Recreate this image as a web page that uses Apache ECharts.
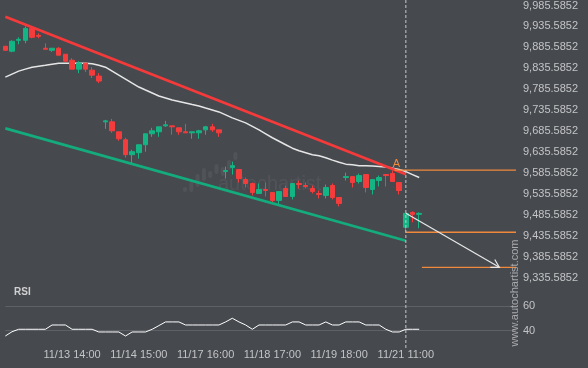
<!DOCTYPE html>
<html><head><meta charset="utf-8">
<script src="https://cdn.jsdelivr.net/npm/echarts@6/dist/echarts.min.js"></script>
<style>html,body{margin:0;padding:0;background:#46494e}#c{width:588px;height:368px}</style>
</head><body><div id="c"></div>
<script>
// ---- data ----
const tickIndex = [10, 20, 30, 40, 50, 60];
const tickLabels = ['11/13 14:00', '11/14 15:00', '11/17 16:00', '11/18 17:00', '11/19 18:00', '11/21 11:00'];
const priceMin = 9335.5852, priceMax = 9985.5852, priceStep = 50;

const candleOpen = [9888.3,9876.5,9902.6,9902.6,9931.0,9914.4,9883.6,9878.8,9883.6,9869.3,
  9855.1,9833.8,9848.0,9831.4,9817.2,9708.0,9708.0,9684.3,9665.3,9629.7,
  9634.5,9653.5,9679.6,9684.3,9698.5,9698.5,9693.8,9684.3,9681.9,9681.9,
  9689.0,9696.2,9689.0,9589.4,9598.9,9594.2,9570.4,9560.9,9537.2,9546.7,
  9539.6,9520.6,9549.1,9530.1,9560.9,9556.2,9549.1,9537.2,9532.5,9556.2,
  9527.7,9575.2,9577.5,9565.7,9582.3,9546.7,9568.1,9582.3,9584.7,9563.3,
  9456.6,9492.1,9487.4];
const candleClose = [9878.8,9900.2,9904.9,9931.0,9909.7,9912.0,9881.2,9883.6,9867.0,9852.7,
  9833.8,9848.0,9833.8,9819.5,9805.3,9710.4,9686.7,9667.7,9629.7,9636.9,
  9653.5,9679.6,9686.7,9696.2,9700.9,9696.2,9684.3,9681.9,9684.3,9686.7,
  9696.2,9689.0,9681.9,9591.8,9603.6,9572.8,9560.9,9539.6,9546.7,9544.3,
  9520.6,9542.0,9530.1,9560.9,9558.6,9553.8,9542.0,9534.8,9551.5,9527.7,
  9513.5,9577.5,9563.3,9579.9,9551.5,9570.4,9575.2,9579.9,9565.7,9544.3,
  9489.8,9487.4,9489.8];
const candleLow = [9877.5,9874.1,9893.1,9895.4,9907.3,9907.3,9881.2,9874.8,9867.0,9851.5,
  9833.8,9824.3,9826.6,9812.4,9800.5,9691.4,9681.9,9663.0,9622.6,9608.4,
  9620.3,9636.9,9672.4,9672.4,9696.2,9677.2,9677.2,9681.9,9667.7,9667.7,
  9677.2,9684.3,9672.4,9572.8,9582.3,9563.3,9551.5,9532.5,9537.2,9530.1,
  9513.5,9511.1,9530.1,9523.0,9549.1,9549.1,9537.2,9525.4,9525.4,9523.0,
  9506.4,9568.1,9551.5,9560.9,9539.6,9534.8,9553.8,9553.8,9565.7,9534.8,
  9444.7,9468.4,9454.2];
const candleHigh = [9889.5,9902.6,9909.7,9935.8,9935.8,9919.2,9895.4,9884.4,9885.9,9869.3,
  9859.9,9852.7,9848.0,9838.5,9824.3,9712.8,9715.1,9684.3,9670.1,9641.6,
  9653.5,9679.6,9693.8,9696.2,9710.4,9698.5,9693.8,9703.3,9684.3,9689.0,
  9698.5,9703.3,9689.0,9601.3,9613.1,9594.2,9575.2,9563.3,9560.9,9563.3,
  9539.6,9542.0,9556.2,9560.9,9568.1,9563.3,9556.2,9544.3,9558.6,9560.9,
  9527.7,9587.0,9577.5,9584.7,9582.3,9570.4,9579.9,9582.3,9591.8,9563.3,
  9489.8,9494.5,9492.1];

const maValues = [9814.8,9821.9,9829.0,9833.8,9838.5,9840.9,9843.2,9845.6,9848.0,9848.0,
  9848.0,9848.0,9848.0,9846.8,9843.2,9838.5,9829.0,9819.5,9810.0,9800.5,
  9791.1,9783.9,9776.8,9769.7,9765.0,9760.2,9756.7,9753.1,9749.5,9746.0,
  9741.2,9736.5,9731.7,9724.6,9717.5,9711.6,9705.7,9697.4,9689.0,9679.6,
  9670.1,9661.8,9653.5,9645.2,9639.2,9634.5,9629.7,9627.4,9622.6,9616.7,
  9611.9,9607.2,9606.0,9603.6,9603.6,9602.5,9601.3,9600.1,9597.7,9594.2,
  9589.4,9582.3,9575.2];

const rsiValues = [35.5,39,41,41,41,41,41,44.5,44.5,44.5,
  41,41,41,41,38.8,38.8,38.8,38.8,35.5,38.8,
  38.8,38.8,41,44,47,47,47,44.5,44.5,44.5,
  44.5,44.5,44.5,47,50,47,44.5,41,44.5,44.5,
  44.5,44.5,44.5,47,47,44.5,44.5,44.5,47,44.5,
  44.5,47,47,47,44.5,44.5,44.5,41,38.8,38.8,
  41,41,41];

const resistanceX = [0, 60], resistanceY = [9958.8, 9583.0];
const supportX = [0, 60], supportY = [9692.6, 9424.5];
const levelA = 9593.0, levelAStart = 58.3;
const levelB = 9444.7, levelBStart = 60;
const levelC = 9361.0, levelCStart = 62.4;
const arrowFrom = [60, 9489.8], arrowTo = [74, 9361.0];
const X_MAX = 76.5;

// ---- chart ----
const LABEL = '#c3c4c6';
const FONT = '"Liberation Sans", Arial, sans-serif';
const GREEN = '#13b584', RED = '#f53c3c', ORANGE = '#f0893c';
const chart = echarts.init(document.getElementById('c'), null, {renderer: 'canvas'});
const fmtPrice = v => {
  const k = Math.round((v - priceMin) / priceStep);
  const s = (priceMin + k * priceStep).toFixed(4).split('.');
  return s[0].replace(/\B(?=(\d{3})+(?!\d))/g, ',') + '.' + s[1];
};
const candles = candleOpen.map((o, i) => [i, o, candleClose[i], candleLow[i], candleHigh[i]]);
const lvl = (start, v) => [[start, v], [X_MAX, v]];

chart.setOption({
  animation: false,
  backgroundColor: '#46494e',
  textStyle: {fontFamily: FONT},
  grid: [
    {left: 5.34, right: 72, top: 4, height: 274},
    {left: 5.34, right: 72, top: 306, height: 24.5}
  ],
  xAxis: [
    {type: 'value', gridIndex: 0, min: 0, max: X_MAX, show: false},
    {type: 'value', gridIndex: 1, min: 0, max: X_MAX, interval: 10,
     axisLine: {show: false}, axisTick: {show: false}, splitLine: {show: false},
     axisLabel: {color: LABEL, fontSize: 11, margin: 19, fontFamily: FONT, showMaxLabel: false,
       formatter: v => { const k = tickIndex.indexOf(Math.round(v)); return k >= 0 ? tickLabels[k] : ''; }}}
  ],
  yAxis: [
    {type: 'value', gridIndex: 0, position: 'right', min: priceMin, max: priceMax, interval: priceStep,
     axisLine: {show: false}, axisTick: {show: false}, splitLine: {show: false},
     axisLabel: {color: LABEL, fontSize: 11, margin: 7, fontFamily: FONT, formatter: fmtPrice}},
    {type: 'value', gridIndex: 1, position: 'right', min: 40, max: 60, interval: 20,
     axisLine: {show: false}, axisTick: {show: false},
     splitLine: {show: true, lineStyle: {color: '#5e6166', width: 1}},
     axisLabel: {color: LABEL, fontSize: 11, margin: 7, fontFamily: FONT}}
  ],
  series: [
    {type: 'line', xAxisIndex: 0, yAxisIndex: 0, data: maValues.map((v, i) => [i, v]),
     symbol: 'none', lineStyle: {color: '#e6e6e6', width: 1.5}, silent: true, clip: false, z: 2},
    {type: 'candlestick', xAxisIndex: 0, yAxisIndex: 0, data: candles,
     encode: {x: 0, y: [1, 2, 3, 4]}, barWidth: 5, clip: false, silent: true, z: 3,
     itemStyle: {color: GREEN, color0: RED, borderColor: GREEN, borderColor0: RED, borderWidth: 1}},
    {type: 'line', xAxisIndex: 0, yAxisIndex: 0, data: resistanceX.map((x, i) => [x, resistanceY[i]]),
     symbol: 'none', lineStyle: {color: '#f43a3a', width: 2.8}, silent: true, clip: false, z: 4},
    {type: 'line', xAxisIndex: 0, yAxisIndex: 0, data: supportX.map((x, i) => [x, supportY[i]]),
     symbol: 'none', lineStyle: {color: '#14ac7c', width: 2.8}, silent: true, clip: false, z: 4},
    {type: 'line', xAxisIndex: 0, yAxisIndex: 0, data: lvl(levelAStart, levelA),
     symbol: 'none', lineStyle: {color: ORANGE, width: 1.4}, silent: true, z: 5},
    {type: 'line', xAxisIndex: 0, yAxisIndex: 0, data: lvl(levelBStart, levelB),
     symbol: 'none', lineStyle: {color: ORANGE, width: 1.4}, silent: true, z: 5},
    {type: 'line', xAxisIndex: 0, yAxisIndex: 0, data: lvl(levelCStart, levelC),
     symbol: 'none', lineStyle: {color: ORANGE, width: 1.4}, silent: true, z: 5},
    {type: 'line', xAxisIndex: 1, yAxisIndex: 1, data: rsiValues.map((v, i) => [i, v]),
     symbol: 'none', lineStyle: {color: '#ffffff', width: 1}, silent: true, clip: false}
  ]
});

// overlays positioned through the chart's own scales
const px = p => chart.convertToPixel({gridIndex: 0}, p);
const vx = px([60, levelA])[0];
const a0 = px(arrowFrom), a1 = px(arrowTo);
const ang = Math.atan2(a1[1] - a0[1], a1[0] - a0[0]);
const hl = 9, spread = Math.PI / 6;
const h1 = [a1[0] - hl * Math.cos(ang - spread), a1[1] - hl * Math.sin(ang - spread)];
const h2 = [a1[0] - hl * Math.cos(ang + spread), a1[1] - hl * Math.sin(ang + spread)];
const aPt = px([levelAStart, levelA]);

const wmBars = [[0,187,5],[1,182,10],[2,174,13],[3,168,13],[4,171,7],[5,164,10],[6,167,9],[7,160,10],[8,152,8]];
chart.setOption({
  graphic: [
    {type: 'line', silent: true, z: 10, shape: {x1: vx, y1: 0, x2: vx, y2: 350},
     style: {stroke: '#c9c9c9', lineWidth: 1, lineDash: [3, 2]}},
    {type: 'polyline', silent: true, z: 11, shape: {points: [a0, a1]},
     style: {stroke: '#e8e8e8', lineWidth: 1.2, fill: null}},
    {type: 'polyline', silent: true, z: 11, shape: {points: [h1, a1, h2]},
     style: {stroke: '#e8e8e8', lineWidth: 1.2, fill: null}},
    {type: 'text', silent: true, z: 11, x: aPt[0] + 2, y: aPt[1] - 6,
     style: {text: 'A', fill: ORANGE, font: '11px ' + FONT, textAlign: 'center', textVerticalAlign: 'middle'}},
    {type: 'text', silent: true, z: 11, x: 14, y: 292,
     style: {text: 'RSI', fill: '#d0d0d0', font: 'bold 10px ' + FONT, textAlign: 'left', textVerticalAlign: 'middle'}},
    {type: 'text', silent: true, z: 11, x: 515, y: 293, rotation: Math.PI / 2,
     style: {text: 'www.autochartist.com', fill: '#a9abae', font: '11px ' + FONT, textAlign: 'center', textVerticalAlign: 'middle'}},
    {type: 'text', silent: true, z: 1, x: 218, y: 184,
     style: {text: 'autochartist', fill: 'rgba(255,255,255,0.06)', font: '20px ' + FONT, textAlign: 'left', textVerticalAlign: 'middle'}}
  ].concat(wmBars.map(b => ({type: 'rect', silent: true, z: 1,
     shape: {x: 183 + b[0] * 6.3, y: b[1], width: 4, height: b[2], r: 2},
     style: {fill: 'rgba(255,255,255,0.06)'}})))
});
</script>
</body></html>
